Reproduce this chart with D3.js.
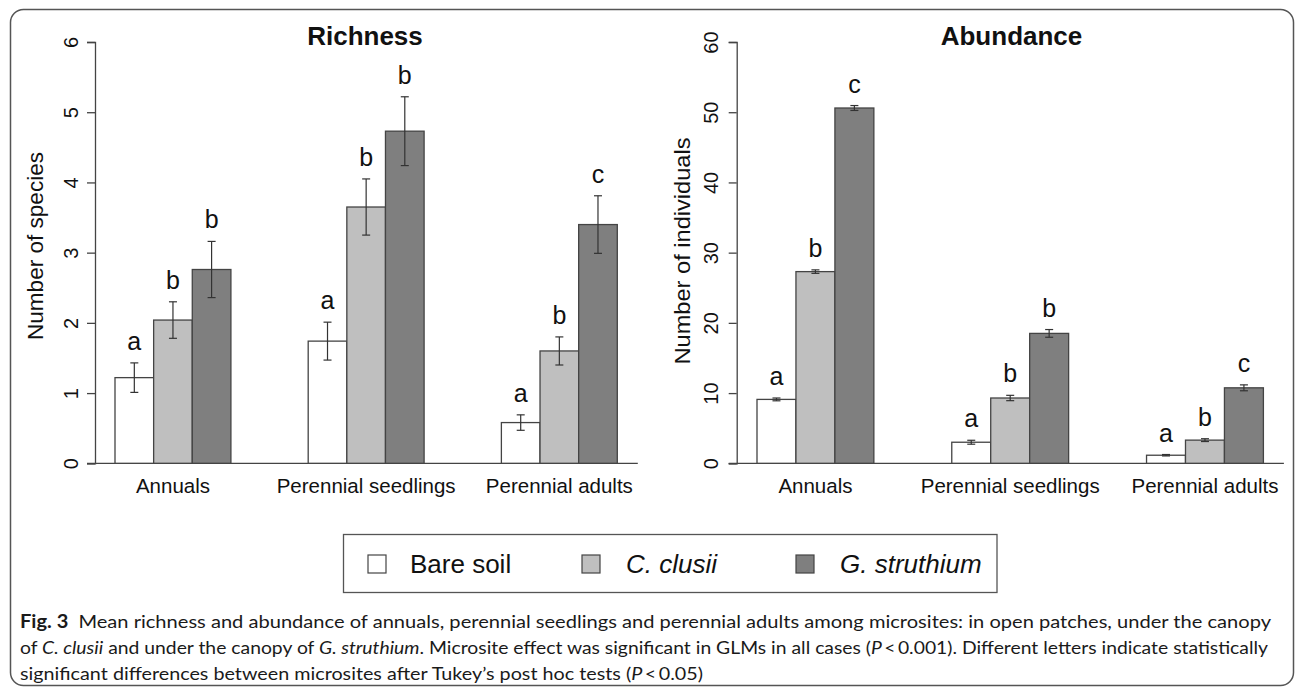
<!DOCTYPE html>
<html>
<head>
<meta charset="utf-8">
<script src="https://cdn.jsdelivr.net/npm/d3@7"></script>
<style>
  html, body { margin: 0; padding: 0; background: #fff; }
  svg { display: block; }
  .chart text { font-family: "Liberation Sans", Arial, Helvetica, sans-serif; fill: #111; }
  .caption text { font-family: Lato, "Noto Sans", sans-serif; fill: #1a1a1a; }
</style>
</head>
<body>
<svg id="fig" width="1295" height="689"></svg>
<script>
// Plant groups and microsites
const categories = ["Annuals", "Perennial seedlings", "Perennial adults"];
const microsites = ["Bare soil", "C. clusii", "G. struthium"];
const micrositeItalic = [false, true, true];
const micrositeFill = ["#ffffff", "#bfbfbf", "#7f7f7f"];

// Richness: mean number of species (rows = plant group, columns = microsite)
const richnessMean = [[1.22, 2.04, 2.76], [1.74, 3.65, 4.73], [0.58, 1.60, 3.40]];
const richnessSE   = [[0.21, 0.26, 0.40], [0.27, 0.40, 0.49], [0.11, 0.20, 0.41]];
const richnessLetters = [["a", "b", "b"], ["a", "b", "b"], ["a", "b", "c"]];
const richnessTicks = [0, 1, 2, 3, 4, 5, 6];

// Abundance: mean number of individuals
const abundanceMean = [[9.1, 27.3, 50.6], [3.0, 9.3, 18.5], [1.15, 3.3, 10.75]];
const abundanceSE   = [[0.2, 0.25, 0.35], [0.28, 0.38, 0.55], [0.1, 0.2, 0.42]];
const abundanceLetters = [["a", "b", "c"], ["a", "b", "b"], ["a", "b", "c"]];
const abundanceTicks = [0, 10, 20, 30, 40, 50, 60];

const svg = d3.select("#fig");

// Outer frame with rounded corners
svg.append("rect")
  .attr("x", 10.5).attr("y", 9.5)
  .attr("width", 1283).attr("height", 676)
  .attr("rx", 13).attr("ry", 13)
  .attr("fill", "none").attr("stroke", "#555").attr("stroke-width", 1.5);

const chart = svg.append("g").attr("class", "chart");

function drawPanel(opt) {
  const g = chart.append("g");
  const y = d3.scaleLinear().domain(opt.yDomain).range([463.3, 42]);
  // bar slots: each group has three bars followed by two empty slots
  const x = d3.scaleLinear().domain([0, 13]).range([opt.firstBar, opt.lastBar]);
  const w = x(1) - x(0);

  // baseline along zero
  g.append("line")
    .attr("x1", opt.axisX - 8).attr("x2", opt.lastBar + 20.5)
    .attr("y1", y(0)).attr("y2", y(0))
    .attr("stroke", "#444").attr("stroke-width", 1.3);

  // y axis
  const axis = g.append("g")
    .attr("transform", `translate(${opt.axisX},0)`)
    .call(d3.axisLeft(y).tickValues(opt.ticks).tickSize(8).tickFormat(d3.format("d")));
  axis.select(".domain").attr("stroke", "#444").attr("stroke-width", 1.3);
  axis.selectAll(".tick line").attr("stroke", "#444").attr("stroke-width", 1.3);
  axis.selectAll(".tick text")
    .attr("x", null).attr("dy", null)
    .attr("text-anchor", "middle")
    .attr("transform", `translate(${opt.tickLabelOffset},0) rotate(-90)`)
    .style("font-family", '"Liberation Sans", Arial, sans-serif')
    .style("font-size", "20px")
    .attr("fill", "#222");

  // y title
  g.append("text")
    .attr("transform", `translate(${opt.titleX},${opt.titleY}) rotate(-90)`)
    .attr("text-anchor", "middle")
    .attr("textLength", opt.titleLength)
    .attr("lengthAdjust", "spacingAndGlyphs")
    .style("font-size", "21.5px")
    .text(opt.yTitle);

  // panel heading
  g.append("text")
    .attr("x", opt.headX).attr("y", 45)
    .attr("text-anchor", "middle")
    .style("font-size", "26px").style("font-weight", "bold")
    .text(opt.heading);

  categories.forEach((cat, gi) => {
    const bars = g.append("g");
    opt.mean[gi].forEach((m, i) => {
      const slot = gi * 5 + i;
      const x0 = x(slot), cx = x0 + w / 2;
      const se = opt.se[gi][i];
      bars.append("rect")
        .attr("x", x0).attr("y", y(m))
        .attr("width", w).attr("height", y(0) - y(m))
        .attr("fill", micrositeFill[i])
        .attr("stroke", "#444").attr("stroke-width", 1.3);
      // error bar (mean ± SE)
      const top = y(m + se), bot = y(m - se);
      bars.append("line").attr("x1", cx).attr("x2", cx).attr("y1", top).attr("y2", bot)
        .attr("stroke", "#333").attr("stroke-width", 1.2);
      [top, bot].forEach(v => bars.append("line")
        .attr("x1", cx - 4).attr("x2", cx + 4).attr("y1", v).attr("y2", v)
        .attr("stroke", "#333").attr("stroke-width", 1.2));
      // post hoc letter
      bars.append("text")
        .attr("x", cx).attr("y", top - 13)
        .attr("text-anchor", "middle")
        .style("font-size", "25px")
        .text(opt.letters[gi][i]);
    });
    // category label under the group
    g.append("text")
      .attr("x", x(gi * 5 + 1.5)).attr("y", 493)
      .attr("text-anchor", "middle")
      .style("font-size", "20.5px")
      .attr("fill", "#222")
      .text(cat);
  });
}

drawPanel({
  yDomain: [0, 6], ticks: richnessTicks, mean: richnessMean, se: richnessSE, letters: richnessLetters,
  axisX: 95, firstBar: 115, lastBar: 617.3, tickLabelOffset: -17,
  yTitle: "Number of species", titleX: 43, titleY: 246, titleLength: 188,
  heading: "Richness", headX: 365
});

drawPanel({
  yDomain: [0, 60], ticks: abundanceTicks, mean: abundanceMean, se: abundanceSE, letters: abundanceLetters,
  axisX: 736.7, firstBar: 757, lastBar: 1263.4, tickLabelOffset: -19,
  yTitle: "Number of individuals", titleX: 690, titleY: 251, titleLength: 227,
  heading: "Abundance", headX: 1011.5
});

// Legend
const legend = chart.append("g");
legend.append("rect")
  .attr("x", 343.5).attr("y", 534.5).attr("width", 653.5).attr("height", 58)
  .attr("fill", "#fff").attr("stroke", "#555").attr("stroke-width", 1.3);
const legendKeyX = [368, 582, 796];
microsites.forEach((name, i) => {
  legend.append("rect")
    .attr("x", legendKeyX[i]).attr("y", 555)
    .attr("width", 18).attr("height", 18)
    .attr("fill", micrositeFill[i]).attr("stroke", "#444").attr("stroke-width", 1.2);
  legend.append("text")
    .attr("x", legendKeyX[i] + 42 + (i === 0 ? 0 : 2)).attr("y", 573)
    .style("font-size", "26px")
    .style("font-style", micrositeItalic[i] ? "italic" : "normal")
    .attr("fill", "#111")
    .text(name);
});

// Figure caption
const caption = svg.append("g").attr("class", "caption");
const captionLines = [
  { y: 628, len: 1251, parts: [
    { t: "Fig. 3", b: true }, { t: "\u2002Mean richness and abundance of annuals, perennial seedlings and perennial adults among microsites: in open patches, under the canopy" }
  ]},
  { y: 654, len: 1248, parts: [
    { t: "of " }, { t: "C. clusii", i: true }, { t: " and under the canopy of " }, { t: "G. struthium", i: true },
    { t: ". Microsite effect was significant in GLMs in all cases (" }, { t: "P", i: true }, { t: "\u2009<\u20090.001). Different letters indicate statistically" }
  ]},
  { y: 680, len: 683, parts: [
    { t: "significant differences between microsites after Tukey\u2019s post hoc tests (" }, { t: "P", i: true }, { t: "\u2009<\u20090.05)" }
  ]}
];
captionLines.forEach(line => {
  const t = caption.append("text")
    .attr("x", 20).attr("y", line.y)
    .attr("textLength", line.len)
    .attr("lengthAdjust", "spacingAndGlyphs")
    .style("font-size", "18px");
  line.parts.forEach(p => {
    t.append("tspan")
      .style("font-weight", p.b ? "bold" : "normal")
      .style("font-style", p.i ? "italic" : "normal")
      .text(p.t);
  });
});
</script>
</body>
</html>
